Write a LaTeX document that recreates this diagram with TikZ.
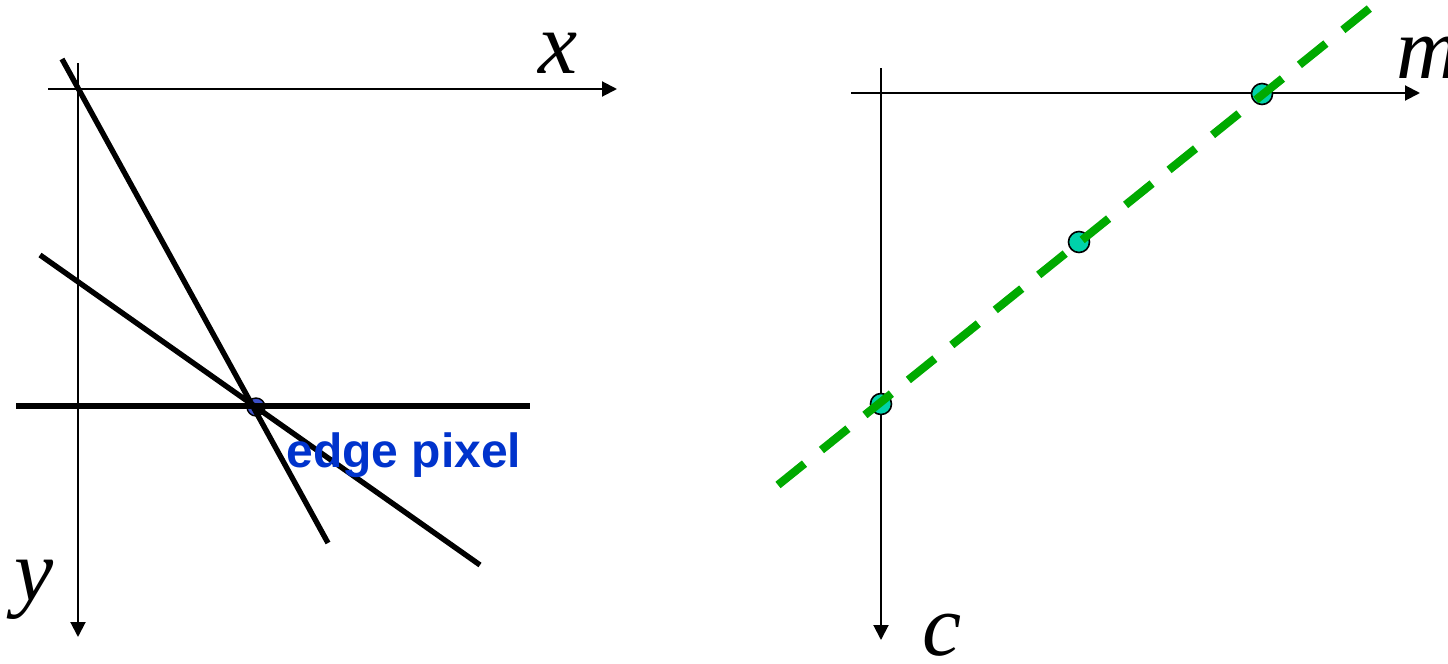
\documentclass[tikz,border=0pt]{standalone}
\usepackage{fontspec}
\setmainfont{Liberation Serif}
\newfontfamily\arialfont{Liberation Sans}
\usetikzlibrary{arrows.meta}
\definecolor{edgeblue}{RGB}{0,51,204}
\definecolor{dotblue}{RGB}{60,80,200}
\definecolor{dashgreen}{RGB}{0,170,0}
\definecolor{dotturq}{RGB}{0,210,170}
\tikzset{
  axis/.style={line width=1pt,-{Triangle[length=7.5pt,width=7.5pt]}},
  thickline/.style={line width=2.7pt,line cap=butt},
  greendash/.style={line width=4.1pt,dashgreen,dash pattern=on 17pt off 10.9pt},
  axlabel/.style={inner sep=0pt,anchor=base west,font=\fontsize{44}{44}\selectfont\itshape},
  edgelabel/.style={inner sep=0pt,anchor=base west,text=edgeblue,font=\arialfont\bfseries\fontsize{24}{24}\selectfont},
  bluedot/.style={circle,draw=black,line width=0.7pt,fill=dotblue,minimum size=9pt,inner sep=0pt},
  turqdot/.style={circle,draw=black,line width=0.8pt,fill=dotturq,minimum size=10.5pt,inner sep=0pt}
}
\begin{document}
\begin{tikzpicture}[x=0.5pt,y=-0.5pt]
\useasboundingbox (0,0) rectangle (1448,664);
% left panel
\coordinate (xs) at (48,89);
\coordinate (xe) at (617,89);
\coordinate (ys) at (78,63);
\coordinate (ye) at (78,637);
\draw[axis] (xs) -- (xe);
\draw[axis] (ys) -- (ye);
\node[axlabel] (xl) at (538,74) {x};
\node[axlabel] (yl) at (14,600) {y};
\node[bluedot] (ep) at (256,407) {};
\coordinate (a1) at (62,59);
\coordinate (a2) at (328,543);
\coordinate (b1) at (40,255);
\coordinate (b2) at (480,565);
\coordinate (h1) at (16,406);
\coordinate (h2) at (530,406);
\draw[thickline] (a1) -- (a2);
\draw[thickline] (b1) -- (b2);
\draw[thickline] (h1) -- (h2);
\node[edgelabel] (el) at (286,467) {edge pixel};
% right panel
\coordinate (ms) at (851,93);
\coordinate (me) at (1420,93);
\coordinate (cs) at (881,68);
\coordinate (ce) at (881,640);
\draw[axis] (ms) -- (me);
\draw[axis] (cs) -- (ce);
\node[axlabel] (ml) at (1396,78) {m};
\node[axlabel] (cl) at (922,655) {c};
\node[turqdot] (p1) at (881,404) {};
\node[turqdot] (p2) at (1079,242) {};
\node[turqdot] (p3) at (1262,94) {};
\coordinate (g1) at (778,485);
\coordinate (g2) at (1370,8);
\draw[greendash] (g1) -- (g2);
\end{tikzpicture}
\end{document}
